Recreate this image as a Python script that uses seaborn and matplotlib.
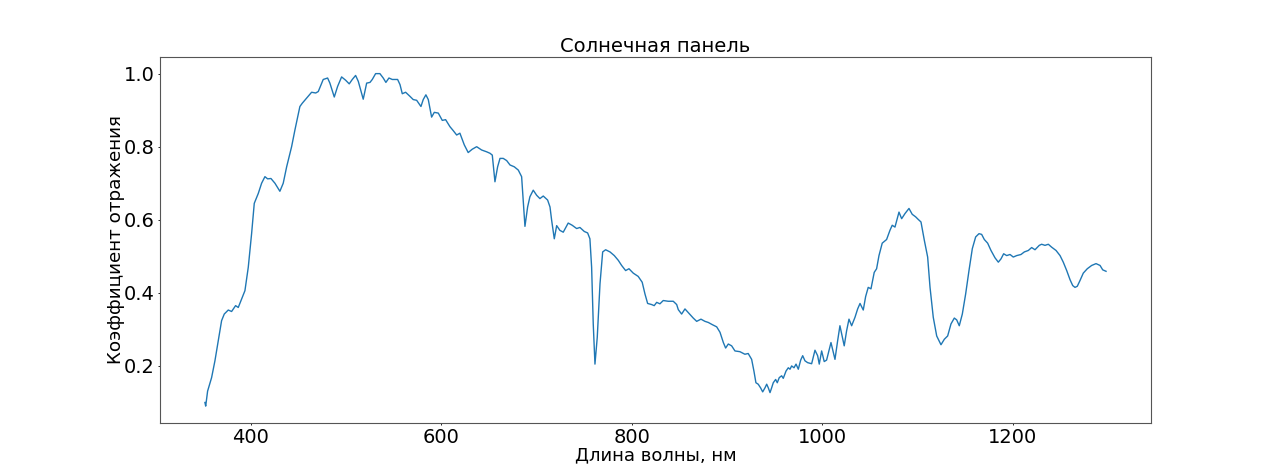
import matplotlib
matplotlib.use("Agg")
import matplotlib.pyplot as plt
import seaborn as sns
import pandas as pd

# Wavelength (nm) and reflectance
wavelength = [
    351.7, 352.5, 354.5, 358.7, 362.2, 365.7, 369.2, 372.0, 376.2, 379.7,
    383.9, 386.7, 390.2, 393.7, 397.2, 400.7, 403.5, 407.7, 411.2, 414.7,
    417.5, 421.0, 425.2, 430.4, 433.9, 437.5, 442.7, 446.2, 451.4, 453.9,
    458.5, 463.7, 468.0, 470.7, 475.9, 480.5, 482.9, 487.5, 491.0, 495.2,
    499.4, 503.2, 506.4, 509.9, 512.7, 517.9, 521.5, 525.0, 527.4, 530.9,
    535.4, 538.9, 541.7, 544.9, 548.4, 554.0, 556.5, 558.9, 562.4, 566.9,
    570.4, 574.0, 578.5, 580.9, 583.7, 586.2, 589.7, 592.5, 596.7, 600.9,
    604.4, 608.9, 612.4, 616.0, 619.4, 624.0, 628.1, 632.3, 637.0, 642.2,
    647.5, 651.0, 653.4, 656.2, 659.0, 661.5, 664.9, 668.5, 672.0, 676.5,
    680.7, 684.2, 685.9, 687.7, 690.5, 692.9, 696.4, 700.0, 703.4, 706.9,
    711.5, 714.0, 715.7, 718.5, 721.0, 724.4, 727.9, 733.1, 737.3, 742.0,
    745.4, 750.0, 753.5, 755.9, 757.7, 759.4, 761.2, 763.6, 766.5, 769.3,
    772.4, 777.0, 781.5, 785.7, 789.2, 793.4, 796.9, 801.4, 806.6, 810.8,
    813.7, 816.5, 820.7, 823.4, 826.0, 829.4, 832.9, 838.1, 843.4, 847.0,
    848.7, 852.2, 855.7, 859.9, 864.4, 868.0, 872.5, 876.7, 880.2, 884.4,
    889.0, 892.5, 896.0, 898.4, 901.2, 904.7, 908.2, 913.4, 918.6, 922.1,
    925.7, 928.1, 930.2, 932.6, 935.1, 937.3, 939.7, 941.5, 943.2, 945.0,
    946.7, 948.4, 950.9, 952.6, 954.7, 957.2, 958.9, 961.8, 964.2, 966.0,
    967.7, 970.2, 972.3, 974.7, 977.2, 979.3, 981.7, 984.5, 988.7, 992.2,
    995.0, 996.7, 999.2, 1001.9, 1004.4, 1009.0, 1013.2, 1016.0, 1018.4, 1022.9,
    1025.4, 1027.9, 1030.7, 1034.2, 1037.0, 1039.5, 1042.9, 1045.4, 1048.1, 1051.0,
    1054.4, 1056.9, 1059.4, 1062.8, 1067.4, 1070.9, 1073.3, 1076.2, 1080.4, 1083.2,
    1086.7, 1090.9, 1094.3, 1097.9, 1100.6, 1103.5, 1107.0, 1110.5, 1113.0, 1116.4,
    1120.0, 1124.5, 1128.0, 1131.5, 1135.0, 1138.5, 1141.0, 1143.7, 1146.9, 1150.4,
    1153.9, 1157.4, 1160.9, 1164.4, 1167.2, 1170.0, 1173.5, 1177.0, 1181.2, 1184.7,
    1187.5, 1190.3, 1193.5, 1197.0, 1200.4, 1204.0, 1208.5, 1212.0, 1216.2, 1219.7,
    1223.2, 1227.7, 1230.2, 1233.7, 1237.2, 1240.7, 1245.3, 1249.5, 1252.9, 1256.5,
    1260.0, 1262.8, 1265.2, 1267.6, 1270.5, 1273.9, 1278.1, 1282.7, 1287.3, 1291.5,
    1294.3, 1297.8,
]

reflectance = [
    0.100, 0.090, 0.131, 0.168, 0.214, 0.269, 0.324, 0.342, 0.353, 0.349,
    0.365, 0.360, 0.383, 0.406, 0.470, 0.562, 0.645, 0.672, 0.700, 0.718,
    0.712, 0.713, 0.700, 0.678, 0.700, 0.745, 0.800, 0.846, 0.910, 0.919,
    0.933, 0.949, 0.947, 0.951, 0.984, 0.988, 0.974, 0.936, 0.965, 0.991,
    0.982, 0.972, 0.984, 0.995, 0.979, 0.930, 0.974, 0.976, 0.984, 1.000,
    1.000, 0.988, 0.976, 0.988, 0.984, 0.984, 0.970, 0.945, 0.949, 0.938,
    0.929, 0.927, 0.910, 0.929, 0.942, 0.929, 0.881, 0.894, 0.892, 0.872,
    0.874, 0.855, 0.844, 0.832, 0.837, 0.805, 0.784, 0.793, 0.800, 0.791,
    0.786, 0.782, 0.777, 0.704, 0.745, 0.768, 0.768, 0.762, 0.750, 0.745,
    0.736, 0.718, 0.654, 0.582, 0.635, 0.663, 0.681, 0.667, 0.658, 0.665,
    0.654, 0.635, 0.599, 0.548, 0.584, 0.571, 0.566, 0.591, 0.585, 0.576,
    0.579, 0.568, 0.564, 0.548, 0.470, 0.315, 0.205, 0.278, 0.425, 0.512,
    0.518, 0.512, 0.502, 0.489, 0.475, 0.461, 0.466, 0.454, 0.445, 0.429,
    0.397, 0.371, 0.368, 0.365, 0.374, 0.370, 0.379, 0.377, 0.377, 0.368,
    0.354, 0.342, 0.356, 0.344, 0.331, 0.322, 0.328, 0.322, 0.319, 0.313,
    0.307, 0.292, 0.264, 0.249, 0.260, 0.255, 0.241, 0.239, 0.232, 0.234,
    0.218, 0.186, 0.154, 0.150, 0.140, 0.129, 0.140, 0.150, 0.140, 0.127,
    0.140, 0.154, 0.163, 0.154, 0.168, 0.173, 0.166, 0.186, 0.195, 0.191,
    0.200, 0.195, 0.205, 0.191, 0.216, 0.228, 0.214, 0.209, 0.206, 0.243,
    0.228, 0.205, 0.241, 0.212, 0.216, 0.264, 0.218, 0.269, 0.310, 0.255,
    0.296, 0.328, 0.310, 0.333, 0.356, 0.371, 0.353, 0.390, 0.415, 0.411,
    0.456, 0.466, 0.502, 0.536, 0.546, 0.571, 0.585, 0.580, 0.621, 0.603,
    0.617, 0.631, 0.615, 0.608, 0.601, 0.594, 0.544, 0.498, 0.415, 0.333,
    0.282, 0.258, 0.273, 0.282, 0.315, 0.331, 0.326, 0.310, 0.342, 0.397,
    0.461, 0.521, 0.553, 0.562, 0.560, 0.546, 0.536, 0.516, 0.496, 0.484,
    0.493, 0.507, 0.502, 0.505, 0.498, 0.502, 0.505, 0.512, 0.516, 0.524,
    0.518, 0.530, 0.533, 0.530, 0.533, 0.525, 0.516, 0.502, 0.484, 0.461,
    0.436, 0.420, 0.415, 0.418, 0.434, 0.454, 0.466, 0.475, 0.480, 0.475,
    0.463, 0.459,
]

title_text = "Солнечная панель"
xlabel_text = "Длина волны, нм"
ylabel_text = "Коэффициент отражения"

df = pd.DataFrame({"wl": wavelength, "r": reflectance})

plt.rcParams['font.family'] = ['DejaVu Sans']
fig, ax = plt.subplots(figsize=(12.79, 4.75), dpi=100)
sns.lineplot(data=df, x="wl", y="r", ax=ax, color="#1f77b4", linewidth=1.0,
             sort=False, estimator=None)

ax.set_title(title_text, fontsize=14, pad=3.5)
ax.set_xlabel(xlabel_text, fontsize=13, labelpad=-1)
ax.set_ylabel(ylabel_text, fontsize=13.2, labelpad=-1)
ax.tick_params(labelsize=14, length=1.5, width=0.6, pad=2.5)
ax.set_xticks([400, 600, 800, 1000, 1200])
ax.set_yticks([0.2, 0.4, 0.6, 0.8, 1.0])
for s in ax.spines.values():
    s.set_edgecolor("#555555")

fig.savefig("out.png", dpi=100)
